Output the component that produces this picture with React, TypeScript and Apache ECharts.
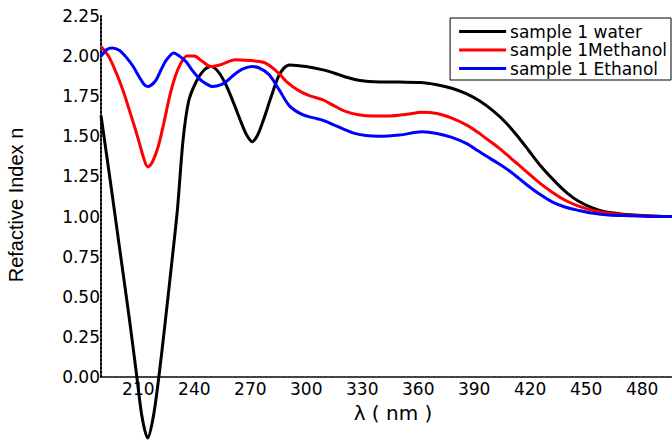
import React, { useEffect, useRef } from "react";
import * as echarts from "echarts";

const xTicks = [210, 240, 270, 300, 330, 360, 390, 420, 450, 480];
const yTicks = [0, 0.25, 0.5, 0.75, 1, 1.25, 1.5, 1.75, 2, 2.25];

const waterX = [190, 195, 200, 205, 209, 212, 215, 218, 221, 224, 228, 231, 234, 237, 241, 245, 249, 253, 257, 261, 265, 268, 271, 274, 277, 281, 285, 288, 291, 300, 309, 316, 321, 328, 336, 350, 361, 370, 378, 386, 393, 400, 407, 414, 419, 426, 434, 440, 446, 453, 460, 470, 478, 490, 496];
const waterY = [1.63, 1.22, 0.8, 0.38, 0.02, -0.25, -0.38, -0.25, 0.0, 0.3, 0.72, 1.05, 1.48, 1.72, 1.84, 1.91, 1.935, 1.9, 1.82, 1.71, 1.59, 1.51, 1.467, 1.51, 1.6, 1.74, 1.87, 1.925, 1.945, 1.935, 1.914, 1.89, 1.87, 1.85, 1.84, 1.838, 1.836, 1.822, 1.8, 1.765, 1.72, 1.66, 1.585, 1.49, 1.415, 1.31, 1.21, 1.145, 1.095, 1.055, 1.03, 1.015, 1.008, 1.002, 1.0];

const methX = [190, 194, 198, 202, 205, 208, 211, 213, 215, 217, 219, 221, 224, 227, 230, 233, 236, 240, 244, 249, 255, 262, 270, 277, 281, 285.5, 290, 296, 302, 309, 315, 321, 328, 336, 345, 354, 362, 370, 378, 386, 392, 396, 403, 410, 414, 420, 425, 432, 439, 446, 453, 462, 473, 485, 496];
const methY = [2.06, 2.0, 1.9, 1.78, 1.67, 1.56, 1.44, 1.36, 1.31, 1.33, 1.38, 1.45, 1.6, 1.76, 1.88, 1.96, 2.0, 2.0, 1.97, 1.935, 1.95, 1.978, 1.972, 1.962, 1.935, 1.89, 1.835, 1.785, 1.752, 1.727, 1.69, 1.656, 1.635, 1.627, 1.627, 1.638, 1.65, 1.642, 1.613, 1.57, 1.525, 1.49, 1.43, 1.36, 1.32, 1.26, 1.21, 1.15, 1.1, 1.065, 1.04, 1.02, 1.008, 1.002, 1.0];

const ethX = [190, 193, 196, 200, 203, 207, 210.5, 213, 215, 217, 219.5, 222, 225, 229, 232, 235.5, 239, 242.6, 246, 250, 254, 258, 262, 266, 271, 275, 280, 285.5, 291, 298, 304, 309, 316, 325, 332, 339, 350, 362, 370, 378, 386, 392, 396, 403, 410, 418, 425, 432, 439, 446, 453, 462, 473, 485, 496];
const ethY = [2.0, 2.04, 2.05, 2.035, 2.0, 1.94, 1.87, 1.825, 1.81, 1.82, 1.85, 1.91, 1.975, 2.02, 2.0, 1.966, 1.91, 1.86, 1.83, 1.81, 1.82, 1.85, 1.89, 1.92, 1.935, 1.925, 1.885, 1.79, 1.69, 1.635, 1.615, 1.6, 1.565, 1.522, 1.505, 1.5, 1.508, 1.528, 1.518, 1.494, 1.455, 1.41, 1.38, 1.33, 1.275, 1.2, 1.14, 1.09, 1.058, 1.038, 1.022, 1.01, 1.005, 1.001, 1.0];

const seriesNames = ["sample 1 water", "sample 1Methanol", "sample 1 Ethanol"];
const seriesColors = ["#000000", "#ff0000", "#0000ff"];

const zip = (xs: number[], ys: number[]) => xs.map((x, i) => [x, ys[i]]);

export default function App() {
  const ref = useRef<HTMLDivElement>(null);
  useEffect(() => {
    if (!ref.current) return;
    const chart = echarts.init(ref.current, undefined, { renderer: "svg" });
    const font = "DejaVu Sans";
    const datasets = [zip(waterX, waterY), zip(methX, methY), zip(ethX, ethY)];
    chart.setOption({
      animation: false,
      backgroundColor: "#ffffff",
      grid: { left: 101, right: 0, top: 16, bottom: 65, outerBoundsMode: "none" },
      legend: {
        orient: "vertical",
        right: 1,
        top: 18,
        icon: "rect",
        itemWidth: 47,
        itemHeight: 3,
        itemGap: 1.5,
        padding: [5, 4, 3, 9],
        borderColor: "#000",
        borderWidth: 1,
        borderRadius: 0,
        backgroundColor: "#fff",
        textStyle: { fontFamily: font, fontSize: 17, color: "#000", lineHeight: 16, padding: [0, 0, 0, -1] },
        data: seriesNames,
      },
      xAxis: [
        {
          type: "value",
          min: 190,
          max: 496,
          position: "bottom",
          axisLine: { show: true, onZero: false, lineStyle: { color: "#000", width: 1.5, type: [5, 1] } },
          axisTick: { show: false },
          splitLine: { show: false },
          axisLabel: { customValues: xTicks, color: "#000", fontFamily: font, fontSize: 17, margin: 3 },
        },
        {
          type: "value",
          min: 190,
          max: 496,
          position: "top",
          axisLine: { show: true, lineStyle: { color: "#444", width: 1 } },
          axisTick: { show: false },
          axisLabel: { show: false },
          splitLine: { show: false },
        },
      ],
      yAxis: {
        type: "value",
        min: 0,
        max: 2.25,
        interval: 0.25,
        axisLine: { show: true, onZero: false, lineStyle: { color: "#000", width: 2, type: "dotted" } },
        axisTick: { show: false },
        splitLine: { show: false },
        axisLabel: {
          customValues: yTicks,
          color: "#000",
          fontFamily: font,
          fontSize: 17,
          margin: 1,
          formatter: (v: number) => v.toFixed(2),
        },
      },
      graphic: [
        {
          type: "text",
          x: 16,
          y: 205,
          rotation: Math.PI / 2,
          style: {
            text: "Refactive Index n",
            fontFamily: "Liberation Sans",
            fontSize: 20,
            fill: "#000",
            align: "center",
            verticalAlign: "middle",
          },
        },
        {
          type: "text",
          x: 393,
          y: 413,
          style: {
            text: "λ ( nm )",
            fontFamily: "DejaVu Sans",
            fontSize: 20,
            fill: "#000",
            align: "center",
            verticalAlign: "middle",
          },
        },
      ],
      series: datasets.map((d, i) => ({
        name: seriesNames[i],
        type: "line",
        data: d,
        smooth: 0.3,
        showSymbol: false,
        symbol: "none",
        clip: false,
        lineStyle: { color: seriesColors[i], width: 3 },
        itemStyle: { color: seriesColors[i] },
      })),
    });
    return () => chart.dispose();
  }, []);
  return <div ref={ref} style={{ position: "fixed", left: 0, top: 0, width: 672, height: 442 }} />;
}
